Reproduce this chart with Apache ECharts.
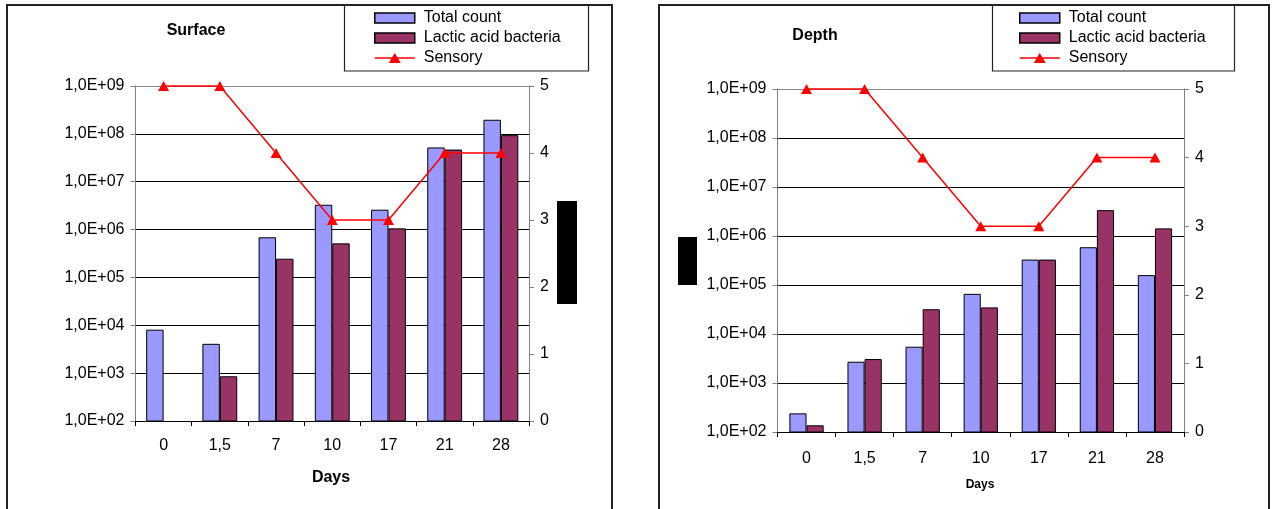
<!DOCTYPE html>
<html>
<head>
<meta charset="utf-8">
<script src="https://cdn.jsdelivr.net/npm/echarts@6/dist/echarts.min.js"></script>
<style>
  html, body { margin: 0; padding: 0; background: #fff; }
  #chart { width: 1272px; height: 509px; }
</style>
</head>
<body>
<div id="chart"></div>
<script>
// Storage days and tick labels
const days = ['0', '1,5', '7', '10', '17', '21', '28'];
const cfuTickLabels = ['1,0E+02', '1,0E+03', '1,0E+04', '1,0E+05', '1,0E+06', '1,0E+07', '1,0E+08', '1,0E+09'];
const sensoryTickLabels = ['0', '1', '2', '3', '4', '5'];

// Surface samples (CFU and sensory score)
const surfaceTotal = [8100, 4100, 690000, 3300000, 2600000, 52000000, 197000000];
const surfaceLactic = [null, 860, 246000, 515000, 1060000, 47000000, 94000000];
const surfaceSensory = [5, 5, 4, 3, 3, 4, 4];

// Depth samples (CFU and sensory score)
const depthTotal = [240, 2720, 5500, 66000, 330000, 590000, 159000];
const depthLactic = [137, 3080, 32000, 34900, 330000, 3370000, 1430000];
const depthSensory = [5, 5, 4, 3, 3, 4, 4];

const FONT = "'Liberation Sans', Arial, sans-serif";
const BLUE = '#9999FF';
const PLUM = '#993366';
const RED = '#FF0000';

// legend glyph for the sensory line: a thin line with a triangle marker in the middle
const LINE_TRIANGLE_ICON = 'path://M0,5.3 L17.42,5.3 L20,1 L22.58,5.3 L40,5.3 L40,6.7 L23.42,6.7 L26,11 L14,11 L16.58,6.7 L0,6.7 Z';

const chart = echarts.init(document.getElementById('chart'), null, { renderer: 'canvas' });

function cfuLabel(v) {
  const i = Math.round(Math.log10(v)) - 2;
  return cfuTickLabels[i] !== undefined ? cfuTickLabels[i] : '';
}

function xAxisFor(gridIndex, margin) {
  return {
    type: 'category', gridIndex, data: days,
    axisLine: { lineStyle: { color: '#000', width: 1 } },
    axisTick: { show: true, length: 5, lineStyle: { color: '#000' } },
    axisLabel: { fontFamily: FONT, fontSize: 16, color: '#000', margin }
  };
}

function cfuAxisFor(gridIndex) {
  return {
    type: 'log', logBase: 10, gridIndex, min: 100, max: 1e9, splitNumber: 7,
    axisLine: { show: true, lineStyle: { color: '#808080' } },
    axisTick: { show: true, length: 5, lineStyle: { color: '#808080' } },
    axisLabel: { fontFamily: FONT, fontSize: 16, color: '#000', margin: 11, formatter: cfuLabel },
    splitLine: { show: true, lineStyle: { color: ['#000', '#000', '#000', '#000', '#000', '#000', '#000', '#888'], width: 1 } },
    minorTick: { show: false }
  };
}

function sensoryAxisFor(gridIndex) {
  return {
    type: 'value', gridIndex, position: 'right', min: 0, max: 5, interval: 1,
    axisLine: { show: true, lineStyle: { color: '#808080' } },
    axisTick: { show: true, length: 5, lineStyle: { color: '#808080' } },
    axisLabel: { fontFamily: FONT, fontSize: 16, color: '#000', margin: 11,
      formatter: v => sensoryTickLabels[v] },
    splitLine: { show: false }
  };
}

function barSeries(name, data, color, xi, yi, gap) {
  return {
    name, type: 'bar', data, xAxisIndex: xi, yAxisIndex: yi,
    barGap: '0%', barCategoryGap: gap,
    itemStyle: { color, borderColor: '#000', borderWidth: 1 },
    emphasis: { disabled: true }
  };
}

function lineSeries(data, xi, yi) {
  return {
    name: 'Sensory', type: 'line', data, xAxisIndex: xi, yAxisIndex: yi,
    symbol: 'triangle', symbolSize: [11, 10], clip: false, z: 5,
    lineStyle: { color: RED, width: 1.5 },
    itemStyle: { color: RED },
    emphasis: { disabled: true }
  };
}

function legendAt(left) {
  return {
    orient: 'vertical', left, top: 10, padding: 0, itemGap: 4, itemWidth: 40, itemHeight: 10,
    selectedMode: false,
    data: [
      { name: 'Total count', icon: 'rect', itemStyle: { borderColor: '#000', borderWidth: 1.5 } },
      { name: 'Lactic acid bacteria', icon: 'rect', itemStyle: { borderColor: '#000', borderWidth: 1.5 } },
      { name: 'Sensory', icon: LINE_TRIANGLE_ICON, itemStyle: { color: RED, borderWidth: 0 } }
    ],
    textStyle: { fontFamily: FONT, fontSize: 16, color: '#000', lineHeight: 16, padding: [0, 0, 0, 4] }
  };
}

function text(x, y, str, size, opts) {
  return Object.assign({
    type: 'text', x, y,
    style: { text: str, fontFamily: FONT, fontSize: size, fontWeight: 'bold', fill: '#000',
      align: 'center', verticalAlign: 'middle' }
  }, opts || {});
}

chart.setOption({
  animation: false,
  backgroundColor: '#fff',
  grid: [
    { left: 135.5, right: 1272 - 529, top: 86, bottom: 509 - 421 },
    { left: 777.5, right: 1272 - 1184, top: 89, bottom: 509 - 432 }
  ],
  legend: [legendAt(374), legendAt(1019)],
  xAxis: [xAxisFor(0, 17), xAxisFor(1, 19)],
  yAxis: [cfuAxisFor(0), sensoryAxisFor(0), cfuAxisFor(1), sensoryAxisFor(1)],
  series: [
    barSeries('Total count', surfaceTotal, BLUE, 0, 0, '38%'),
    barSeries('Lactic acid bacteria', surfaceLactic, PLUM, 0, 0, '38%'),
    lineSeries(surfaceSensory, 0, 1),
    barSeries('Total count', depthTotal, BLUE, 1, 2, '41%'),
    barSeries('Lactic acid bacteria', depthLactic, PLUM, 1, 2, '41%'),
    lineSeries(depthSensory, 1, 3)
  ],
  graphic: [
    // panel frames
    { type: 'rect', shape: { x: 7, y: 5, width: 605, height: 520 }, style: { fill: null, stroke: '#222', lineWidth: 2 }, z: 0, silent: true },
    { type: 'rect', shape: { x: 659, y: 5, width: 610, height: 520 }, style: { fill: null, stroke: '#222', lineWidth: 2 }, z: 0, silent: true },
    // legend frames
    { type: 'rect', shape: { x: 344.5, y: 5, width: 244, height: 66 }, style: { fill: null, stroke: '#222', lineWidth: 1.2 }, z: 0, silent: true },
    { type: 'rect', shape: { x: 992.5, y: 5, width: 242, height: 66 }, style: { fill: null, stroke: '#222', lineWidth: 1.2 }, z: 0, silent: true },
    // titles
    text(196, 31, 'Surface', 16),
    text(815, 36, 'Depth', 16),
    // axis names
    text(331, 478, 'Days', 16),
    text(980, 485, 'Days', 12),
    text(37, 251, 'CFU /', 16, { rotation: Math.PI / 2, originX: 37, originY: 251 }),
    text(1220, 257, 'Sensory (sme', 14, { rotation: Math.PI / 2, originX: 1220, originY: 257 }),
    // blacked-out labels
    { type: 'rect', shape: { x: 557, y: 201, width: 20, height: 103 }, style: { fill: '#000' }, z: 10, silent: true },
    { type: 'rect', shape: { x: 678, y: 237, width: 19, height: 48 }, style: { fill: '#000' }, z: 10, silent: true }
  ]
});
</script>
</body>
</html>
